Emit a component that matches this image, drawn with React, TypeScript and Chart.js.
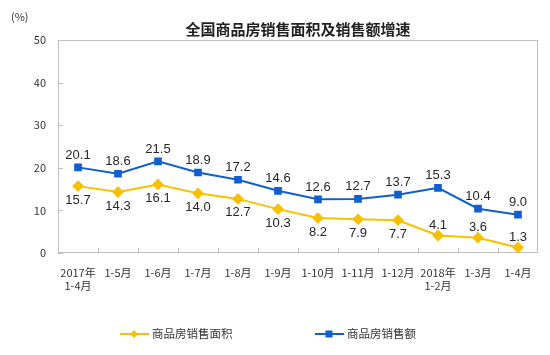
import React, { useEffect, useRef } from "react";
import { Chart, registerables } from "chart.js";

Chart.register(...registerables);

const categories: (string | string[])[] = [
  ["2017年", "1-4月"], "1-5月", "1-6月", "1-7月", "1-8月", "1-9月",
  "1-10月", "1-11月", "1-12月", ["2018年", "1-2月"], "1-3月", "1-4月",
];
const areaGrowth = [15.7, 14.3, 16.1, 14.0, 12.7, 10.3, 8.2, 7.9, 7.7, 4.1, 3.6, 1.3];
const salesGrowth = [20.1, 18.6, 21.5, 18.9, 17.2, 14.6, 12.6, 12.7, 13.7, 15.3, 10.4, 9.0];
const yTicks = [0, 10, 20, 30, 40, 50];
const titleText = "全国商品房销售面积及销售额增速";
const unitText = "(%)";
const areaName = "商品房销售面积";
const salesName = "商品房销售额";

const YELLOW = "#F9C000";
const BLUE = "#0F5FCF";
const CJK = '"Noto Sans CJK SC", "Noto Sans", sans-serif';
const NUM = '"Liberation Sans", Arial, sans-serif';

// label placement for each series (style, not data)
const areaLabelPos = ["b", "b", "b", "b", "b", "b", "b", "b", "b", "a", "a", "a"];

const decorPlugin = {
  id: "decor",
  beforeDatasetsDraw(chart: any) {
    const { ctx, chartArea } = chart;
    const { left, right, top, bottom } = chartArea;
    ctx.save();
    ctx.strokeStyle = "#BFBFBF";
    ctx.lineWidth = 1;
    ctx.strokeRect(left + 0.5, top + 0.5, right - left - 1, bottom - top - 1);
    // inner ticks
    const ys = chart.scales.y;
    ctx.beginPath();
    yTicks.forEach((v) => {
      const py = Math.round(ys.getPixelForValue(v)) + 0.5;
      ctx.moveTo(left, py);
      ctx.lineTo(left + 5, py);
    });
    const xs = chart.scales.x;
    const n = categories.length;
    const w = (right - left) / n;
    for (let i = 1; i < n; i++) {
      const px = Math.round(left + w * i) + 0.5;
      ctx.moveTo(px, bottom);
      ctx.lineTo(px, bottom - 5);
    }
    ctx.stroke();
    ctx.restore();
  },
  afterDatasetsDraw(chart: any) {
    const { ctx, chartArea } = chart;
    ctx.save();
    ctx.font = `13px ${NUM}`;
    ctx.fillStyle = "#262626";
    ctx.textAlign = "center";
    ctx.textBaseline = "middle";
    chart.data.datasets.forEach((ds: any, di: number) => {
      const meta = chart.getDatasetMeta(di);
      meta.data.forEach((pt: any, i: number) => {
        const v = ds.data[i];
        let dy: number;
        if (di === 1) dy = -12;
        else dy = areaLabelPos[i] === "a" ? -10 : 14;
        ctx.fillText(v.toFixed(1), pt.x, pt.y + dy);
      });
    });
    // title
    ctx.font = `bold 15px ${CJK}`;
    ctx.fillStyle = "#222";
    ctx.fillText(titleText, (chartArea.left + chartArea.right) / 2, 29);
    // unit
    ctx.font = `11px ${CJK}`;
    ctx.fillStyle = "#333";
    ctx.textAlign = "left";
    ctx.fillText(unitText, 11, 17);
    // legend
    const legendItems = [
      { x: 120, color: YELLOW, style: "diamond", text: chart.data.datasets[0].label },
      { x: 315, color: BLUE, style: "square", text: chart.data.datasets[1].label },
    ];
    const ly = 334;
    legendItems.forEach((it) => {
      ctx.strokeStyle = it.color;
      ctx.fillStyle = it.color;
      ctx.lineWidth = 2;
      ctx.beginPath();
      ctx.moveTo(it.x, ly);
      ctx.lineTo(it.x + 29, ly);
      ctx.stroke();
      const cx = it.x + 14;
      ctx.beginPath();
      if (it.style === "diamond") {
        ctx.moveTo(cx, ly - 4);
        ctx.lineTo(cx + 4, ly);
        ctx.lineTo(cx, ly + 4);
        ctx.lineTo(cx - 4, ly);
        ctx.closePath();
      } else {
        ctx.rect(cx - 3.5, ly - 3.5, 7, 7);
      }
      ctx.fill();
      ctx.fillStyle = "#333";
      ctx.font = `11.5px ${CJK}`;
      ctx.textAlign = "left";
      ctx.fillText(it.text, it.x + 32, ly);
    });
    ctx.restore();
  },
};

export default function App() {
  const ref = useRef<HTMLCanvasElement>(null);
  useEffect(() => {
    if (!ref.current) return;
    const chart = new Chart(ref.current, {
      type: "line",
      data: {
        labels: categories,
        datasets: [
          {
            label: areaName,
            data: areaGrowth,
            borderColor: YELLOW,
            backgroundColor: YELLOW,
            borderWidth: 2,
            pointStyle: "rectRot",
            pointRadius: 4.5,
            pointHoverRadius: 4.5,
            tension: 0,
          },
          {
            label: salesName,
            data: salesGrowth,
            borderColor: BLUE,
            backgroundColor: BLUE,
            borderWidth: 2,
            pointStyle: "rect",
            pointRadius: 4,
            pointHoverRadius: 4,
            tension: 0,
          },
        ],
      },
      options: {
        responsive: false,
        animation: false,
        devicePixelRatio: 1,
        layout: { padding: { top: 40, right: 12, left: 0, bottom: 0 } },
        plugins: {
          legend: { display: false },
          title: { display: false },
          tooltip: { enabled: false },
        },
        scales: {
          x: {
            offset: true,
            grid: { display: false, drawTicks: false },
            border: { display: false },
            ticks: {
              color: "#333",
              font: { family: CJK, size: 11, lineHeight: 1.2 },
              padding: 13,
              maxRotation: 0,
              autoSkip: false,
            },
            afterFit(scale: any) {
              scale.height = 102;
            },
          },
          y: {
            min: 0,
            max: 50,
            grid: { display: false, drawTicks: false },
            border: { display: false },
            ticks: {
              stepSize: 10,
              color: "#333",
              font: { family: CJK, size: 11 },
              padding: 12,
            },
            afterFit(scale: any) {
              scale.width = 58;
            },
          },
        },
      },
      plugins: [decorPlugin],
    });
    return () => chart.destroy();
  }, []);
  return (
    <div style={{ position: "absolute", left: 0, top: 0, width: 550, height: 355, background: "#fff" }}>
      <canvas ref={ref} width={550} height={355} />
    </div>
  );
}
